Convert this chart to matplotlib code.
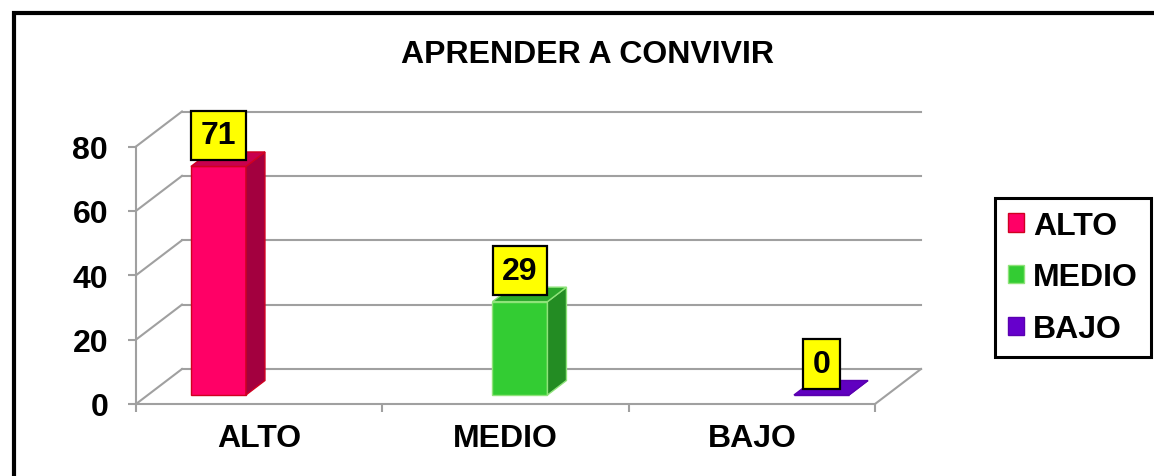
#pseudo 3d column chart, excel style

import numpy as np
import matplotlib
matplotlib.use('Agg')
import matplotlib.pyplot as plt
from matplotlib.patches import Polygon, Rectangle, Patch

plt.rcParams['font.family'] = ['Liberation Sans', 'DejaVu Sans']
plt.rcParams['font.weight'] = 'bold'

title = 'APRENDER A CONVIVIR'
categories = ['ALTO', 'MEDIO', 'BAJO']
values = [71, 29, 0]
yticks = [0, 20, 40, 60, 80]

front_col = ['#FF0066', '#33CC33', '#6600CC']
side_col = ['#A3003F', '#238C23', '#4A0099']
top_col = ['#C8004E', '#2BA82B', '#6000C0']
edge_col = ['#D00020', '#8FE37A', '#5A00B0']
grid_col = '#A0A0A0'
fs = 23

W, H = 1154, 477
fig = plt.figure(figsize=(W/100, H/100), dpi=100)
ax = fig.add_axes([136/W, 72/H, 739/W, 257.5/H])
ax.set_xlim(-0.5, 2.5)
ax.set_ylim(0, 80)
ax.patch.set_visible(False)

# pixels per data unit, used for the fake depth
sx = 739/3.0
sy = 257.5/80.0
def off(px, py):
    return px/sx, py/sy

wdx, wdy = off(46, 35)   # wall depth
idx, idy = off(12, 9)    # bar inset from front
bdx, bdy = off(19, 14.5) # bar depth
bw = 55/sx
bar_x = -0.214 + 1.224*np.arange(len(values))

# walls / floor
for v in yticks:
    ax.plot([-0.5+wdx, 2.5+wdx], [v+wdy, v+wdy], color=grid_col, lw=1.5, clip_on=False, zorder=1)
    ax.plot([-0.5, -0.5+wdx], [v, v+wdy], color=grid_col, lw=1.5, clip_on=False, zorder=1)
ax.plot([2.5, 2.5+wdx], [0, wdy], color=grid_col, lw=1.5, clip_on=False, zorder=1)

# bars
for i, v in enumerate(values):
    x0 = bar_x[i] - bw/2 + idx
    y0 = idy
    front = Polygon([(x0, y0), (x0+bw, y0), (x0+bw, y0+v), (x0, y0+v)],
                    closed=True, fc=front_col[i], ec=edge_col[i], lw=1, clip_on=False, zorder=3)
    side = Polygon([(x0+bw, y0), (x0+bw+bdx, y0+bdy), (x0+bw+bdx, y0+v+bdy), (x0+bw, y0+v)],
                   closed=True, fc=side_col[i], ec=edge_col[i], lw=1, clip_on=False, zorder=3)
    top = Polygon([(x0, y0+v), (x0+bw, y0+v), (x0+bw+bdx, y0+v+bdy), (x0+bdx, y0+v+bdy)],
                  closed=True, fc=top_col[i], ec=edge_col[i], lw=1, clip_on=False, zorder=3)
    for p in (front, side, top):
        ax.add_patch(p)
    ax.annotate(str(v), xy=(x0+bw/2, y0+v), xytext=(0, 31*0.72), textcoords='offset points',
                ha='center', va='center', fontsize=fs, fontweight='bold', zorder=5,
                bbox=dict(boxstyle='square,pad=0.3', fc='#FFFF00', ec='black', lw=1.6))

# axes look
for s in ['top', 'right']:
    ax.spines[s].set_visible(False)
ax.spines['left'].set_color(grid_col)
ax.spines['bottom'].set_color(grid_col)
ax.spines['left'].set_linewidth(1.5)
ax.spines['bottom'].set_linewidth(1.5)
ax.set_yticks(yticks)
ax.set_yticklabels([str(t) for t in yticks], fontsize=fs, fontweight='bold')
ax.tick_params(axis='y', length=6, width=1.5, color=grid_col, pad=14)
ax.set_xticks([-0.5, 0.5, 1.5, 2.5])
ax.set_xticklabels([])
ax.tick_params(axis='x', which='major', length=6, width=1.5, color=grid_col)
ax.set_xticks(np.arange(len(categories)), minor=True)
ax.set_xticklabels(categories, minor=True, fontsize=fs, fontweight='bold')
ax.tick_params(axis='x', which='minor', length=0, pad=14)

fig.text(587.5/W, 1-63/H, title, ha='center', va='baseline', fontsize=23, fontweight='bold')

handles = [Patch(fc=front_col[i], ec=edge_col[i], lw=1) for i in range(len(categories))]
leg = fig.legend(handles, categories, loc='upper left', bbox_to_anchor=(995/W, 1-199/H),
                 borderaxespad=0, fontsize=fs, handlelength=0.5, handleheight=0.5,
                 handletextpad=0.3, labelspacing=0.68, borderpad=0.4, fancybox=False,
                 framealpha=1, edgecolor='black')
leg.get_frame().set_linewidth(2.2)
for t in leg.get_texts():
    t.set_fontweight('bold')

# outer frame of the screenshot
fig.add_artist(Rectangle((14/W, -0.2), 1.2, 0.2+1-14/H, transform=fig.transFigure,
                         fill=False, ec='black', lw=3, clip_on=False))

fig.savefig('out.png', dpi=100)
